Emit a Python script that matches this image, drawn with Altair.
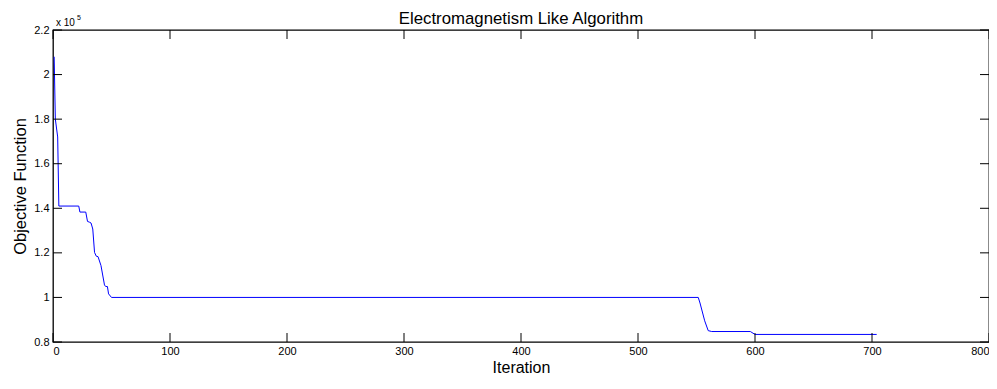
import altair as alt
import pandas as pd

# Data (objective in units of 1e5)
iterations = [1, 2, 4, 5, 22, 23, 28, 29.5, 31, 32.5, 34, 35.5, 37, 38.5, 41, 44, 45, 46.5, 47.5, 50,
              551.5, 553, 557, 560, 563, 596, 600, 704]
objective = [2.08, 1.80, 1.72, 1.41, 1.41, 1.383, 1.383, 1.341, 1.338, 1.334, 1.307, 1.202, 1.185,
             1.183, 1.143, 1.056, 1.049, 1.049, 1.016, 1.0,
             1.0, 0.975, 0.895, 0.851, 0.847, 0.847, 0.834, 0.834]
x_ticks = [0, 100, 200, 300, 400, 500, 600, 700, 800]
y_ticks = [0.8, 1.0, 1.2, 1.4, 1.6, 1.8, 2.0, 2.2]

W, H = 936, 312
FONT = "Liberation Sans"

df = pd.DataFrame({"iter": iterations, "obj": objective})
xt = pd.DataFrame({"t": x_ticks})
yt = pd.DataFrame({"t": y_ticks})

xscale = alt.Scale(domain=[0, 800], nice=False, zero=False)
yscale = alt.Scale(domain=[0.8, 2.2], nice=False, zero=False)

line = alt.Chart(df).mark_line(color="#0000ff", strokeWidth=1).encode(
    x=alt.X("iter:Q", scale=xscale, title="Iteration",
            axis=alt.Axis(values=x_ticks, ticks=False, grid=False, domain=False,
                          labelFont=FONT, labelFontSize=11, labelColor="black", labelPadding=3,
                          titleFont=FONT, titleFontSize=16, titleFontWeight="normal",
                          titleColor="black", titleBaseline="alphabetic", titleY=30.3,
                          titleX=W / 2, titleAlign="center")),
    y=alt.Y("obj:Q", scale=yscale, title="Objective Function",
            axis=alt.Axis(values=y_ticks, ticks=False, grid=False, domain=False,
                          labelFont=FONT, labelFontSize=11, labelColor="black", labelPadding=4,
                          labelExpr="datum.value == 1 ? '1' : datum.value == 2 ? '2' : format(datum.value, '.1f')",
                          titleFont=FONT, titleFontSize=16.5, titleFontWeight="normal",
                          titleColor="black", titleBaseline="alphabetic", titleAngle=270,
                          titleX=-28, titleY=H / 2, titleAlign="center")),
)

tick_len = 9
xb = alt.Chart(xt).mark_rule(color="black", strokeWidth=1).encode(
    x=alt.X("t:Q", scale=xscale), y=alt.value(H), y2=alt.value(H - tick_len))
xtop = alt.Chart(xt).mark_rule(color="black", strokeWidth=1).encode(
    x=alt.X("t:Q", scale=xscale), y=alt.value(0), y2=alt.value(tick_len))
yl = alt.Chart(yt).mark_rule(color="black", strokeWidth=1).encode(
    y=alt.Y("t:Q", scale=yscale), x=alt.value(0), x2=alt.value(tick_len))
yr = alt.Chart(yt).mark_rule(color="black", strokeWidth=1).encode(
    y=alt.Y("t:Q", scale=yscale), x=alt.value(W - tick_len), x2=alt.value(W))

one = alt.Data(values=[{}])
title = alt.Chart(one).mark_text(text="Electromagnetism Like Algorithm", font=FONT, fontSize=16.8,
                                 color="black", align="center", baseline="alphabetic").encode(
    x=alt.value(W / 2), y=alt.value(-6.5))
expo = alt.Chart(one).mark_text(text="x 10", font=FONT, fontSize=10, color="black",
                                align="left", baseline="alphabetic").encode(
    x=alt.value(3), y=alt.value(-4))
expo5 = alt.Chart(one).mark_text(text="5", font=FONT, fontSize=7, color="black",
                                 align="left", baseline="alphabetic").encode(
    x=alt.value(24), y=alt.value(-10))

chart = alt.layer(line, xb, xtop, yl, yr, title, expo, expo5).properties(
    width=W, height=H,
    autosize=alt.AutoSizeParams(type="none"),
    padding={"left": 45, "top": 22, "right": 0, "bottom": 34},
).configure_view(stroke="black", strokeWidth=1.3)

chart.save("out.html", embed_options={"renderer": "svg", "actions": False})
